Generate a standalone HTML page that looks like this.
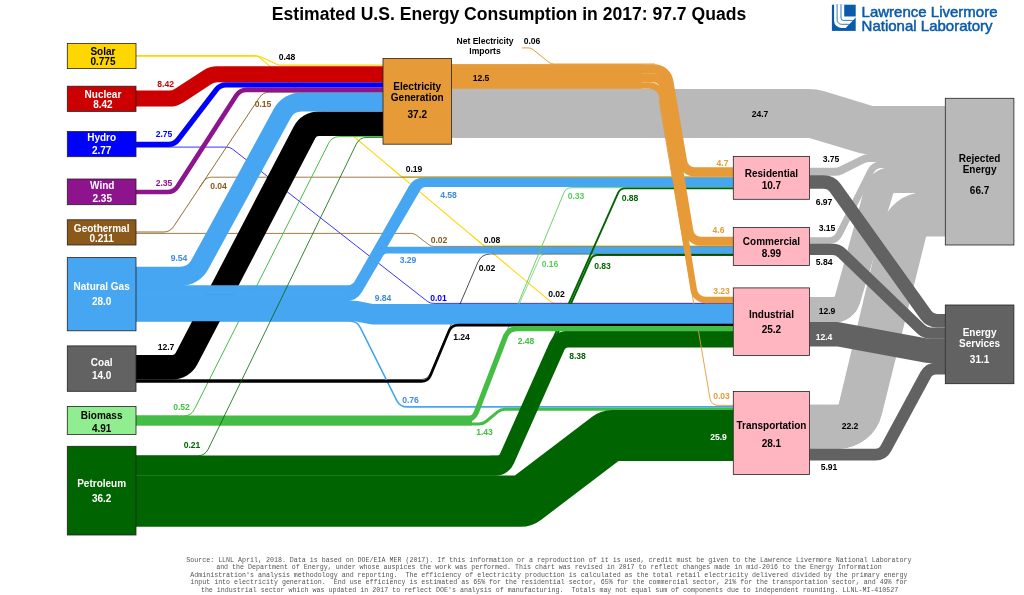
<!DOCTYPE html>
<html><head><meta charset="utf-8"><title>Estimated U.S. Energy Consumption in 2017</title>
<style>
html,body{margin:0;padding:0;background:#fff;}
body{width:1024px;height:595px;overflow:hidden;position:relative;font-family:"Liberation Sans",sans-serif;}
svg{position:absolute;left:0;top:0;}
svg text{font-family:"Liberation Sans",sans-serif;}
svg text.mono{font-family:"Liberation Mono",monospace;white-space:pre;}
</style></head><body>
<svg width="1024" height="595" viewBox="0 0 1024 595">
<path d="M451.50,113.50L808.57,113.50A30.00,30.00 0 0 1 817.24,114.78L864.76,129.12A30.00,30.00 0 0 0 873.43,130.40L945.30,130.40" fill="none" stroke="#B9B9B9" stroke-width="48.9" />
<path d="M809.60,171.80L835.20,171.80A12.00,12.00 0 0 0 840.51,170.56L863.49,159.24A12.00,12.00 0 0 1 868.80,158.00L945.30,158.00" fill="none" stroke="#B9B9B9" stroke-width="8.0" />
<path d="M809.60,240.60L828.59,240.60A12.00,12.00 0 0 0 839.32,233.97L870.68,171.28A12.00,12.00 0 0 1 881.41,164.65L945.30,164.65" fill="none" stroke="#B9B9B9" stroke-width="6.8" />
<path d="M809.60,309.70L833.82,309.70A14.00,14.00 0 0 0 847.32,299.40L877.18,190.50A14.00,14.00 0 0 1 890.68,180.20L945.30,180.20" fill="none" stroke="#B9B9B9" stroke-width="25.6" />
<path d="M809.60,309.70L834.13,309.70A14.00,14.00 0 0 0 847.52,299.78L880.98,190.12A14.00,14.00 0 0 1 894.37,180.20L945.30,180.20" fill="none" stroke="#B9B9B9" stroke-width="25.6" />
<path d="M809.60,426.80L838.03,426.80A23.00,23.00 0 0 0 860.35,409.36L904.65,231.69A23.00,23.00 0 0 1 926.97,214.25L945.30,214.25" fill="none" stroke="#B9B9B9" stroke-width="44.0" />
<path d="M809.60,426.80L837.82,426.80A23.00,23.00 0 0 0 860.20,409.12L902.30,231.93A23.00,23.00 0 0 1 924.68,214.25L945.30,214.25" fill="none" stroke="#B9B9B9" stroke-width="44.0" />
<path d="M136.00,55.80L254.59,55.80A8.00,8.00 0 0 1 259.73,57.67L550.27,301.33A8.00,8.00 0 0 0 555.41,303.20L733.30,303.20" fill="none" stroke="#FFD700" stroke-width="1.1" />
<path d="M136.00,55.80L255.00,55.80" fill="none" stroke="#FFD700" stroke-width="1.6" />
<path d="M390.00,167.00L400.03,175.40A6.00,6.00 0 0 0 403.88,176.80L733.30,176.80" fill="none" stroke="#FFD700" stroke-width="1.0" />
<path d="M470.00,234.00L482.63,244.60A6.00,6.00 0 0 0 486.48,246.00L733.30,246.00" fill="none" stroke="#FFD700" stroke-width="1.0" />
<path d="M136.00,55.80L255.01,55.80A14.00,14.00 0 0 1 260.73,57.02L276.27,63.98A14.00,14.00 0 0 0 281.99,65.20L383.00,65.20" fill="none" stroke="#FFD700" stroke-width="1.2" />
<path d="M136.00,147.10L226.56,147.10A10.00,10.00 0 0 1 232.71,149.22L427.29,301.28A10.00,10.00 0 0 0 433.44,303.40L733.30,303.40" fill="none" stroke="#0000FF" stroke-width="0.8" />
<path d="M136.00,232.00L163.57,232.00A12.00,12.00 0 0 0 173.56,226.65L259.44,97.55A12.00,12.00 0 0 1 269.43,92.20L383.00,92.20" fill="none" stroke="#8B5A1A" stroke-width="0.9" />
<path d="M199.50,187.50L203.34,181.69A10.00,10.00 0 0 1 211.68,177.20L733.30,177.20" fill="none" stroke="#8B5A1A" stroke-width="0.8" />
<path d="M136.00,233.40L411.29,233.40A8.00,8.00 0 0 1 416.15,235.05L428.85,244.75A8.00,8.00 0 0 0 433.71,246.40L733.30,246.40" fill="none" stroke="#8B5A1A" stroke-width="0.8" />
<path d="M136.00,416.00L183.61,416.00A12.00,12.00 0 0 0 194.33,409.41L328.67,143.19A12.00,12.00 0 0 1 339.39,136.60L383.00,136.60" fill="none" stroke="#44BD44" stroke-width="1.0" />
<path d="M136.00,417.40L466.12,417.40A12.00,12.00 0 0 0 477.34,409.65L506.40,333.00L539.39,258.56A8.00,8.00 0 0 1 546.70,253.80L733.30,253.80" fill="none" stroke="#5CCB5C" stroke-width="0.7" />
<path d="M490.00,458.50L496.61,458.50A8.00,8.00 0 0 0 503.92,453.76L590.48,259.84A8.00,8.00 0 0 1 597.79,255.10L733.30,255.10" fill="none" stroke="#006400" stroke-width="2.0" />
<path d="M136.00,379.50L421.01,379.50A10.00,10.00 0 0 0 430.20,373.44L477.86,262.38A14.00,14.00 0 0 1 490.73,253.90L733.30,253.90" fill="none" stroke="#000000" stroke-width="0.7" />
<path d="M136.00,321.00L349.59,321.00A12.00,12.00 0 0 1 360.32,327.63L396.68,400.27A12.00,12.00 0 0 0 407.41,406.90L733.30,406.90" fill="none" stroke="#46A6F2" stroke-width="1.6" />
<path d="M136.00,424.00L479.06,424.00A11.00,11.00 0 0 0 486.04,421.50L497.96,411.70A11.00,11.00 0 0 1 504.94,409.20L733.30,409.20" fill="none" stroke="#44BD44" stroke-width="3.0" />
<path d="M136.00,467.40L495.21,467.40A12.00,12.00 0 0 0 506.17,460.29L557.03,346.21A12.00,12.00 0 0 1 567.99,339.10L733.30,339.10" fill="none" stroke="#006400" stroke-width="16.6" />
<path d="M136.00,457.60L494.00,457.60L500.00,457.60" fill="none" stroke="#006400" stroke-width="4.2" />
<path d="M136.00,501.20L520.61,501.20A8.00,8.00 0 0 0 525.45,499.57L607.65,437.13A8.00,8.00 0 0 1 612.49,435.50L733.30,435.50" fill="none" stroke="#006400" stroke-width="51.2" />
<path d="M659.00,100.00L710.06,398.75A8.00,8.00 0 0 0 717.95,405.40L733.30,405.40" fill="none" stroke="#E69A38" stroke-width="0.9" />
<path d="M136.00,367.20L172.30,367.20A16.00,16.00 0 0 0 186.49,358.60L304.51,132.40A16.00,16.00 0 0 1 318.70,123.80L383.00,123.80" fill="none" stroke="#000000" stroke-width="24.6" />
<path d="M136.00,276.40L180.34,276.40A22.00,22.00 0 0 0 199.65,264.93L282.25,113.47A22.00,22.00 0 0 1 301.56,102.00L383.00,102.00" fill="none" stroke="#46A6F2" stroke-width="19.2" />
<path d="M136.00,290.20L348.47,290.20A14.00,14.00 0 0 0 360.55,283.26L416.60,187.35A10.00,10.00 0 0 1 425.24,182.40L733.30,182.40" fill="none" stroke="#46A6F2" stroke-width="9.3" />
<path d="M136.00,290.20L346.86,290.20A14.00,14.00 0 0 0 359.03,283.12L412.85,188.47A12.00,12.00 0 0 1 423.28,182.40L733.30,182.40" fill="none" stroke="#46A6F2" stroke-width="9.3" />
<path d="M136.00,297.90L345.32,297.90A16.00,16.00 0 0 0 359.13,289.98L380.08,254.16A8.00,8.00 0 0 1 386.99,250.20L733.30,250.20" fill="none" stroke="#46A6F2" stroke-width="6.8" />
<path d="M136.00,417.00L465.73,417.00A12.00,12.00 0 0 0 476.94,409.27L506.00,333.00L563.96,192.65A8.00,8.00 0 0 1 571.35,187.70L733.30,187.70" fill="none" stroke="#5CCB5C" stroke-width="0.9" />
<path d="M490.00,456.80L495.40,456.80A8.00,8.00 0 0 0 502.71,452.05L617.99,193.15A8.00,8.00 0 0 1 625.30,188.40L733.30,188.40" fill="none" stroke="#006400" stroke-width="1.9" />
<path d="M136.00,311.00L355.02,311.00A10.00,10.00 0 0 1 356.96,311.19L371.04,313.96A10.00,10.00 0 0 0 372.98,314.15L733.30,314.15" fill="none" stroke="#46A6F2" stroke-width="20.5" />
<path d="M136.00,381.40L421.34,381.40A10.00,10.00 0 0 0 430.57,375.25L448.93,331.25A10.00,10.00 0 0 1 458.16,325.10L733.30,325.10" fill="none" stroke="#000000" stroke-width="2.6" />
<path d="M136.00,420.20L465.06,420.20A12.00,12.00 0 0 0 476.26,412.50L505.54,336.30A12.00,12.00 0 0 1 516.74,328.60L733.30,328.60" fill="none" stroke="#44BD44" stroke-width="5.3" />
<rect x="136.0" y="415.5" width="336" height="9.9" fill="#44BD44"/>
<path d="M136.00,455.80L197.48,455.80A12.00,12.00 0 0 0 208.28,449.04L356.22,144.16A12.00,12.00 0 0 1 367.02,137.40L383.00,137.40" fill="none" stroke="#006400" stroke-width="0.8" />
<path d="M136.00,192.00L167.47,192.00A12.00,12.00 0 0 0 177.55,186.51L236.45,95.34A12.00,12.00 0 0 1 246.53,89.85L383.00,89.85" fill="none" stroke="#8E148E" stroke-width="4.7" />
<path d="M136.00,144.40L168.57,144.40A12.00,12.00 0 0 0 178.10,139.69L216.40,89.61A12.00,12.00 0 0 1 225.93,84.90L383.00,84.90" fill="none" stroke="#0000FF" stroke-width="5.3" />
<path d="M136.00,98.60L169.16,98.60A18.00,18.00 0 0 0 178.98,95.69L207.52,77.11A18.00,18.00 0 0 1 217.34,74.20L383.00,74.20" fill="none" stroke="#CC0000" stroke-width="16.0" />
<rect x="451.5" y="64.3" width="190" height="24.5" fill="#E69A38"/>
<path d="M522.00,47.90L528.18,47.90A8.00,8.00 0 0 1 533.20,49.67L548.80,62.23A8.00,8.00 0 0 0 553.82,64.00L655.00,64.00" fill="none" stroke="#E69A38" stroke-width="1.0" />
<path d="M451.50,68.85L654.01,68.85A15.00,15.00 0 0 1 668.79,81.31L682.61,161.83A12.00,12.00 0 0 0 694.43,171.80L733.30,171.80" fill="none" stroke="#E69A38" stroke-width="9.2" />
<path d="M451.50,77.85L653.22,77.85A12.00,12.00 0 0 1 665.06,87.88L688.91,231.17A12.00,12.00 0 0 0 700.75,241.20L733.30,241.20" fill="none" stroke="#E69A38" stroke-width="9.0" />
<path d="M451.50,85.50L649.44,85.50A13.00,13.00 0 0 1 662.27,96.41L693.77,289.93A12.00,12.00 0 0 0 705.62,300.00L733.30,300.00" fill="none" stroke="#E69A38" stroke-width="6.5" />
<path d="M809.60,182.00L823.79,182.00A14.00,14.00 0 0 1 835.19,187.86L925.81,314.79A14.00,14.00 0 0 0 937.21,320.65L945.30,320.65" fill="none" stroke="#626262" stroke-width="13.5" />
<path d="M809.60,249.40L832.36,249.40A14.00,14.00 0 0 1 842.06,253.31L920.94,329.14A14.00,14.00 0 0 0 930.64,333.05L945.30,333.05" fill="none" stroke="#626262" stroke-width="11.3" />
<path d="M809.60,334.25L836.16,334.25A20.00,20.00 0 0 1 839.81,334.59L925.19,350.41A20.00,20.00 0 0 0 928.84,350.75L945.30,350.75" fill="none" stroke="#626262" stroke-width="24.3" />
<path d="M809.60,454.70L875.34,454.70A12.00,12.00 0 0 0 885.90,448.40L925.60,374.85A12.00,12.00 0 0 1 936.16,368.55L945.30,368.55" fill="none" stroke="#626262" stroke-width="11.8" />
<rect x="67.3" y="43.4" width="68.70" height="25.20" fill="#FFD700" stroke="#222" stroke-width="0.8"/>
<text x="102.95" y="55.4" text-anchor="middle" font-size="10.0" font-weight="bold" fill="#000">Solar</text>
<text x="102.95" y="65.4" text-anchor="middle" font-size="10.0" font-weight="bold" fill="#000">0.775</text>
<rect x="67.3" y="86.2" width="68.70" height="25.20" fill="#CC0000" stroke="#222" stroke-width="0.8"/>
<text x="102.95" y="98.3" text-anchor="middle" font-size="10.0" font-weight="bold" fill="#fff">Nuclear</text>
<text x="102.95" y="108.3" text-anchor="middle" font-size="10.0" font-weight="bold" fill="#fff">8.42</text>
<rect x="67.3" y="131.5" width="68.70" height="25.20" fill="#0000FF" stroke="#222" stroke-width="0.8"/>
<text x="101.65" y="141" text-anchor="middle" font-size="10.0" font-weight="bold" fill="#fff">Hydro</text>
<text x="101.65" y="153.5" text-anchor="middle" font-size="10.0" font-weight="bold" fill="#fff">2.77</text>
<rect x="67.3" y="179" width="68.70" height="25.70" fill="#8E148E" stroke="#222" stroke-width="0.8"/>
<text x="102.25" y="188.9" text-anchor="middle" font-size="10.0" font-weight="bold" fill="#fff">Wind</text>
<text x="102.25" y="201.5" text-anchor="middle" font-size="10.0" font-weight="bold" fill="#fff">2.35</text>
<rect x="67.3" y="219.8" width="68.70" height="25.20" fill="#8B5A1A" stroke="#222" stroke-width="0.8"/>
<text x="101.65" y="231.6" text-anchor="middle" font-size="10.0" font-weight="bold" fill="#fff">Geothermal</text>
<text x="101.65" y="241.8" text-anchor="middle" font-size="10.0" font-weight="bold" fill="#fff">0.211</text>
<rect x="67.3" y="257.6" width="68.70" height="73.20" fill="#46A6F2" stroke="#222" stroke-width="0.8"/>
<text x="101.65" y="290" text-anchor="middle" font-size="10.0" font-weight="bold" fill="#fff">Natural Gas</text>
<text x="101.65" y="304.5" text-anchor="middle" font-size="10.0" font-weight="bold" fill="#fff">28.0</text>
<rect x="67.3" y="345.9" width="68.70" height="45.40" fill="#626262" stroke="#222" stroke-width="0.8"/>
<text x="101.65" y="366" text-anchor="middle" font-size="10.0" font-weight="bold" fill="#fff">Coal</text>
<text x="101.65" y="378.5" text-anchor="middle" font-size="10.0" font-weight="bold" fill="#fff">14.0</text>
<rect x="67.3" y="406.4" width="68.70" height="28.00" fill="#90EE90" stroke="#222" stroke-width="0.8"/>
<text x="101.65" y="418.5" text-anchor="middle" font-size="10.0" font-weight="bold" fill="#000">Biomass</text>
<text x="101.65" y="431.5" text-anchor="middle" font-size="10.0" font-weight="bold" fill="#000">4.91</text>
<rect x="67.3" y="446.3" width="68.70" height="88.70" fill="#006400" stroke="#222" stroke-width="0.8"/>
<text x="101.65" y="487" text-anchor="middle" font-size="10.0" font-weight="bold" fill="#fff">Petroleum</text>
<text x="101.65" y="502" text-anchor="middle" font-size="10.0" font-weight="bold" fill="#fff">36.2</text>
<rect x="383.0" y="58.5" width="68.50" height="85.70" fill="#E69A38" stroke="#222" stroke-width="0.8"/>
<text x="417.25" y="90.4" text-anchor="middle" font-size="10.0" font-weight="bold" fill="#000">Electricity</text>
<text x="417.25" y="101.4" text-anchor="middle" font-size="10.0" font-weight="bold" fill="#000">Generation</text>
<text x="417.25" y="118.2" text-anchor="middle" font-size="10.0" font-weight="bold" fill="#000">37.2</text>
<rect x="733.3" y="156.5" width="76.30" height="42.80" fill="#FFB6C1" stroke="#222" stroke-width="0.8"/>
<text x="771.45" y="176.6" text-anchor="middle" font-size="10.0" font-weight="bold" fill="#000">Residential</text>
<text x="771.45" y="189.0" text-anchor="middle" font-size="10.0" font-weight="bold" fill="#000">10.7</text>
<rect x="733.3" y="227.5" width="76.30" height="38.00" fill="#FFB6C1" stroke="#222" stroke-width="0.8"/>
<text x="771.45" y="244.6" text-anchor="middle" font-size="10.0" font-weight="bold" fill="#000">Commercial</text>
<text x="771.45" y="257.0" text-anchor="middle" font-size="10.0" font-weight="bold" fill="#000">8.99</text>
<rect x="733.3" y="287.9" width="76.30" height="67.60" fill="#FFB6C1" stroke="#222" stroke-width="0.8"/>
<text x="771.45" y="318" text-anchor="middle" font-size="10.0" font-weight="bold" fill="#000">Industrial</text>
<text x="771.45" y="333" text-anchor="middle" font-size="10.0" font-weight="bold" fill="#000">25.2</text>
<rect x="733.3" y="391.5" width="76.30" height="83.00" fill="#FFB6C1" stroke="#222" stroke-width="0.8"/>
<text x="771.45" y="429" text-anchor="middle" font-size="10.0" font-weight="bold" fill="#000">Transportation</text>
<text x="771.45" y="446.5" text-anchor="middle" font-size="10.0" font-weight="bold" fill="#000">28.1</text>
<rect x="945.3" y="98.3" width="68.60" height="146.70" fill="#B9B9B9" stroke="#222" stroke-width="0.8"/>
<text x="979.60" y="161.5" text-anchor="middle" font-size="10.0" font-weight="bold" fill="#000">Rejected</text>
<text x="979.60" y="172.5" text-anchor="middle" font-size="10.0" font-weight="bold" fill="#000">Energy</text>
<text x="979.60" y="194" text-anchor="middle" font-size="10.0" font-weight="bold" fill="#000">66.7</text>
<rect x="945.3" y="305" width="68.60" height="78.70" fill="#626262" stroke="#222" stroke-width="0.8"/>
<text x="979.60" y="335.5" text-anchor="middle" font-size="10.0" font-weight="bold" fill="#fff">Energy</text>
<text x="979.60" y="346.5" text-anchor="middle" font-size="10.0" font-weight="bold" fill="#fff">Services</text>
<text x="979.60" y="363" text-anchor="middle" font-size="10.0" font-weight="bold" fill="#fff">31.1</text>
<text x="287" y="59.6" text-anchor="middle" font-size="8.6" font-weight="bold" fill="#000">0.48</text>
<text x="165.6" y="87" text-anchor="middle" font-size="8.6" font-weight="bold" fill="#CC0000">8.42</text>
<text x="164" y="137" text-anchor="middle" font-size="8.6" font-weight="bold" fill="#0000FF">2.75</text>
<text x="164" y="185.5" text-anchor="middle" font-size="8.6" font-weight="bold" fill="#8E148E">2.35</text>
<text x="263" y="107" text-anchor="middle" font-size="8.6" font-weight="bold" fill="#8B5A1A">0.15</text>
<text x="218.5" y="188.5" text-anchor="middle" font-size="8.6" font-weight="bold" fill="#8B5A1A">0.04</text>
<text x="179" y="261" text-anchor="middle" font-size="8.6" font-weight="bold" fill="#3C8CE0">9.54</text>
<text x="166" y="349.5" text-anchor="middle" font-size="8.6" font-weight="bold" fill="#000">12.7</text>
<text x="181.5" y="410" text-anchor="middle" font-size="8.6" font-weight="bold" fill="#44BD44">0.52</text>
<text x="192" y="447.5" text-anchor="middle" font-size="8.6" font-weight="bold" fill="#006400">0.21</text>
<text x="414" y="172.4" text-anchor="middle" font-size="8.6" font-weight="bold" fill="#000">0.19</text>
<text x="448.5" y="198" text-anchor="middle" font-size="8.6" font-weight="bold" fill="#3C8CE0">4.58</text>
<text x="439" y="242.5" text-anchor="middle" font-size="8.6" font-weight="bold" fill="#8B5A1A">0.02</text>
<text x="492" y="242.5" text-anchor="middle" font-size="8.6" font-weight="bold" fill="#000">0.08</text>
<text x="408" y="262.7" text-anchor="middle" font-size="8.6" font-weight="bold" fill="#3C8CE0">3.29</text>
<text x="487" y="271" text-anchor="middle" font-size="8.6" font-weight="bold" fill="#000">0.02</text>
<text x="383" y="301" text-anchor="middle" font-size="8.6" font-weight="bold" fill="#3C8CE0">9.84</text>
<text x="438.5" y="301" text-anchor="middle" font-size="8.6" font-weight="bold" fill="#0000FF">0.01</text>
<text x="461.5" y="339.5" text-anchor="middle" font-size="8.6" font-weight="bold" fill="#000">1.24</text>
<text x="410.5" y="403" text-anchor="middle" font-size="8.6" font-weight="bold" fill="#3C8CE0">0.76</text>
<text x="484.5" y="435" text-anchor="middle" font-size="8.6" font-weight="bold" fill="#44BD44">1.43</text>
<text x="576" y="199" text-anchor="middle" font-size="8.6" font-weight="bold" fill="#5CCB5C">0.33</text>
<text x="630" y="201" text-anchor="middle" font-size="8.6" font-weight="bold" fill="#006400">0.88</text>
<text x="550" y="266.5" text-anchor="middle" font-size="8.6" font-weight="bold" fill="#5CCB5C">0.16</text>
<text x="602.5" y="268.5" text-anchor="middle" font-size="8.6" font-weight="bold" fill="#006400">0.83</text>
<text x="556.5" y="297" text-anchor="middle" font-size="8.6" font-weight="bold" fill="#000">0.02</text>
<text x="526" y="344" text-anchor="middle" font-size="8.6" font-weight="bold" fill="#44BD44">2.48</text>
<text x="577.5" y="359" text-anchor="middle" font-size="8.6" font-weight="bold" fill="#006400">8.38</text>
<text x="718.5" y="440" text-anchor="middle" font-size="8.6" font-weight="bold" fill="#fff">25.9</text>
<text x="722.5" y="165.5" text-anchor="middle" font-size="8.6" font-weight="bold" fill="#E69A38">4.7</text>
<text x="718.5" y="232.5" text-anchor="middle" font-size="8.6" font-weight="bold" fill="#E69A38">4.6</text>
<text x="721.5" y="293.5" text-anchor="middle" font-size="8.6" font-weight="bold" fill="#E69A38">3.23</text>
<text x="721.5" y="399.2" text-anchor="middle" font-size="8.6" font-weight="bold" fill="#E69A38">0.03</text>
<text x="481" y="80.5" text-anchor="middle" font-size="8.6" font-weight="bold" fill="#000">12.5</text>
<text x="532" y="43.5" text-anchor="middle" font-size="8.6" font-weight="bold" fill="#000">0.06</text>
<text x="760" y="116.5" text-anchor="middle" font-size="8.6" font-weight="bold" fill="#000">24.7</text>
<text x="831" y="162" text-anchor="middle" font-size="8.6" font-weight="bold" fill="#000">3.75</text>
<text x="824" y="204.6" text-anchor="middle" font-size="8.6" font-weight="bold" fill="#000">6.97</text>
<text x="827" y="230.5" text-anchor="middle" font-size="8.6" font-weight="bold" fill="#000">3.15</text>
<text x="824.2" y="265.4" text-anchor="middle" font-size="8.6" font-weight="bold" fill="#000">5.84</text>
<text x="827" y="313.5" text-anchor="middle" font-size="8.6" font-weight="bold" fill="#000">12.9</text>
<text x="824" y="339.5" text-anchor="middle" font-size="8.6" font-weight="bold" fill="#fff">12.4</text>
<text x="850" y="429" text-anchor="middle" font-size="8.6" font-weight="bold" fill="#000">22.2</text>
<text x="829" y="470" text-anchor="middle" font-size="8.6" font-weight="bold" fill="#000">5.91</text>
<text x="485" y="44.0" text-anchor="middle" font-size="8.55" font-weight="bold" fill="#000">Net Electricity</text>
<text x="485" y="53.9" text-anchor="middle" font-size="8.55" font-weight="bold" fill="#000">Imports</text>
<text x="509" y="19.6" text-anchor="middle" font-size="17.57" font-weight="bold" fill="#000">Estimated U.S. Energy Consumption in 2017: 97.7 Quads</text>
<g><rect x="831.9" y="4.7" width="23.8" height="26.2" fill="#0B5BAA"/><path d="M834.1,4.3 L844.2,4.3 L844.2,16.5 L856,16.5 L856,17.2 L845.7,28 L841.4,28 A7.3,7.3 0 0 1 834.1,20.7 Z" fill="#fff"/><path d="M837.1,4.3 L837.1,19.9 A4.4,4.4 0 0 0 841.5,24.3 L849.1,24.3" fill="none" stroke="#0B5BAA" stroke-width="1.0" opacity="0.8"/><path d="M841,4.3 L841,18 A2.4,2.4 0 0 0 843.4,20.4 L852.8,20.4" fill="none" stroke="#0B5BAA" stroke-width="1.0" opacity="0.8"/></g>
<text x="861.6" y="16.6" font-size="15" fill="#0B5BAA" stroke="#0B5BAA" stroke-width="0.5">Lawrence Livermore</text>
<text x="861.6" y="31.2" font-size="15" fill="#0B5BAA" stroke="#0B5BAA" stroke-width="0.5">National Laboratory</text>
<text class="mono" x="548.9" y="561.50" text-anchor="middle" font-size="6.65" fill="#555" xml:space="preserve">Source: LLNL April, 2018. Data is based on DOE/EIA MER (2017). If this information or a reproduction of it is used, credit must be given to the Lawrence Livermore National Laboratory</text>
<text class="mono" x="548.9" y="569.00" text-anchor="middle" font-size="6.65" fill="#555" xml:space="preserve">and the Department of Energy, under whose auspices the work was performed. This chart was revised in 2017 to reflect changes made in mid-2016 to the Energy Information</text>
<text class="mono" x="548.9" y="576.50" text-anchor="middle" font-size="6.65" fill="#555" xml:space="preserve">Administration's analysis methodology and reporting.  The efficiency of electricity production is calculated as the total retail electricity delivered divided by the primary energy</text>
<text class="mono" x="548.9" y="584.00" text-anchor="middle" font-size="6.65" fill="#555" xml:space="preserve">input into electricity generation.  End use efficiency is estimated as 65% for the residential sector, 65% for the commercial sector, 21% for the transportation sector, and 49% for</text>
<text class="mono" x="549.6" y="591.50" text-anchor="middle" font-size="6.65" fill="#555" xml:space="preserve">the industrial sector which was updated in 2017 to reflect DOE's analysis of manufacturing.  Totals may not equal sum of components due to independent rounding. LLNL-MI-410527</text>
</svg>
</body></html>
